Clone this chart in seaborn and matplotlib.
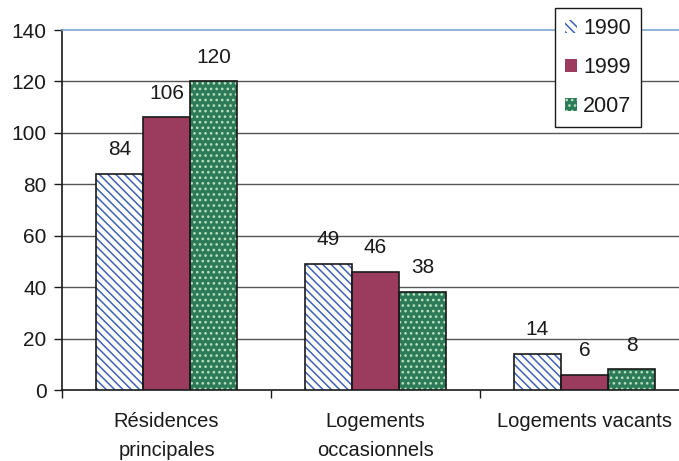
import matplotlib
matplotlib.use("Agg")
import matplotlib.pyplot as plt
from matplotlib.patches import Patch, Rectangle
import seaborn as sns
import pandas as pd

categories = ["Résidences\nprincipales", "Logements\noccasionnels", "Logements vacants"]
years = ["1990", "1999", "2007"]
values_1990 = [84, 49, 14]
values_1999 = [106, 46, 6]
values_2007 = [120, 38, 8]
yticks = [0, 20, 40, 60, 80, 100, 120, 140]

series = {"1990": values_1990, "1999": values_1999, "2007": values_2007}
rows = []
for y in years:
    for c, v in zip(categories, series[y]):
        rows.append({"cat": c, "year": y, "val": v})
df = pd.DataFrame(rows)

# fill colour, hatch pattern, hatch colour per year
styles = {
    "1990": ("#ffffff", "\\\\\\\\", "#3d62b3"),
    "1999": ("#9b3b5e", None, "#9b3b5e"),
    "2007": ("#2c7a57", "...", "#b8e0bf"),
}

sns.set_theme(style="white")
plt.rcParams["font.family"] = ["Liberation Sans", "DejaVu Sans"]
plt.rcParams["hatch.linewidth"] = 1.1

fig = plt.figure(figsize=(6.79, 4.61), dpi=100)
W, H = 679, 461
ax = fig.add_axes([62 / W, 71 / H, 617 / W, 360 / H])

sns.barplot(data=df, x="cat", y="val", hue="year", hue_order=years,
            palette=[styles[y][0] for y in years], width=0.675,
            saturation=1, legend=False, ax=ax, zorder=3)

for y, cont in zip(years, ax.containers):
    face, hatch, hcol = styles[y]
    for bar in cont:
        bar.set_facecolor(face)
        bar.set_edgecolor(hcol)
        bar.set_linewidth(0)
        if hatch:
            bar.set_hatch(hatch)
        ax.add_patch(Rectangle(bar.get_xy(), bar.get_width(), bar.get_height(),
                               fill=False, edgecolor="#1a1a1a", linewidth=1.2,
                               zorder=4))
    for bar, v in zip(cont, series[y]):
        ax.annotate(str(v), (bar.get_x() + bar.get_width() / 2, bar.get_height()),
                    xytext=(0, 17.5), textcoords="offset points",
                    ha="center", va="center", fontsize=15, color="#1a1a1a")

ax.set_xlim(-0.5, -0.5 + 617 / 209)
ax.set_ylim(0, 140)
ax.set_yticks(yticks)
ax.set_yticklabels([str(t) for t in yticks])
for t in yticks[1:-1]:
    ax.axhline(t, color="#555555", linewidth=1.0, zorder=1)

ax.set_xlabel("")
ax.set_ylabel("")
ax.set_xticks([0, 1, 2])
ax.set_xticklabels(categories, linespacing=1.65)
ax.set_xticks([-0.5, 0.5, 1.5], minor=True)
ax.tick_params(axis="x", which="major", length=0, pad=16, labelsize=14.5,
               colors="#1a1a1a")
ax.tick_params(axis="x", which="minor", length=6, width=1, direction="out",
               color="#1a1a1a", bottom=True)
ax.tick_params(axis="y", length=6, width=1, direction="out", left=True,
               labelsize=15, colors="#1a1a1a", pad=5)

for s in ["left", "bottom"]:
    ax.spines[s].set_color("#1a1a1a")
    ax.spines[s].set_linewidth(1.2)
ax.spines["right"].set_visible(False)
ax.spines["top"].set_color("#7aa6cf")
ax.spines["top"].set_linewidth(1.2)

handles = [Patch(facecolor=styles[y][0], edgecolor=styles[y][2], hatch=styles[y][1],
                 linewidth=0, label=y) for y in years]
leg = fig.legend(handles=handles, loc="upper right",
                 bbox_to_anchor=(641 / W, 1 - 8 / H), fontsize=15.5,
                 frameon=True, fancybox=False, framealpha=1, edgecolor="#1a1a1a",
                 handlelength=0.55, handleheight=0.55, handletextpad=0.3,
                 labelspacing=0.85, borderpad=0.45, borderaxespad=0)
leg.get_frame().set_linewidth(1.0)
for t in leg.get_texts():
    t.set_color("#1a1a1a")

fig.savefig("out.png", dpi=100, facecolor="white")
